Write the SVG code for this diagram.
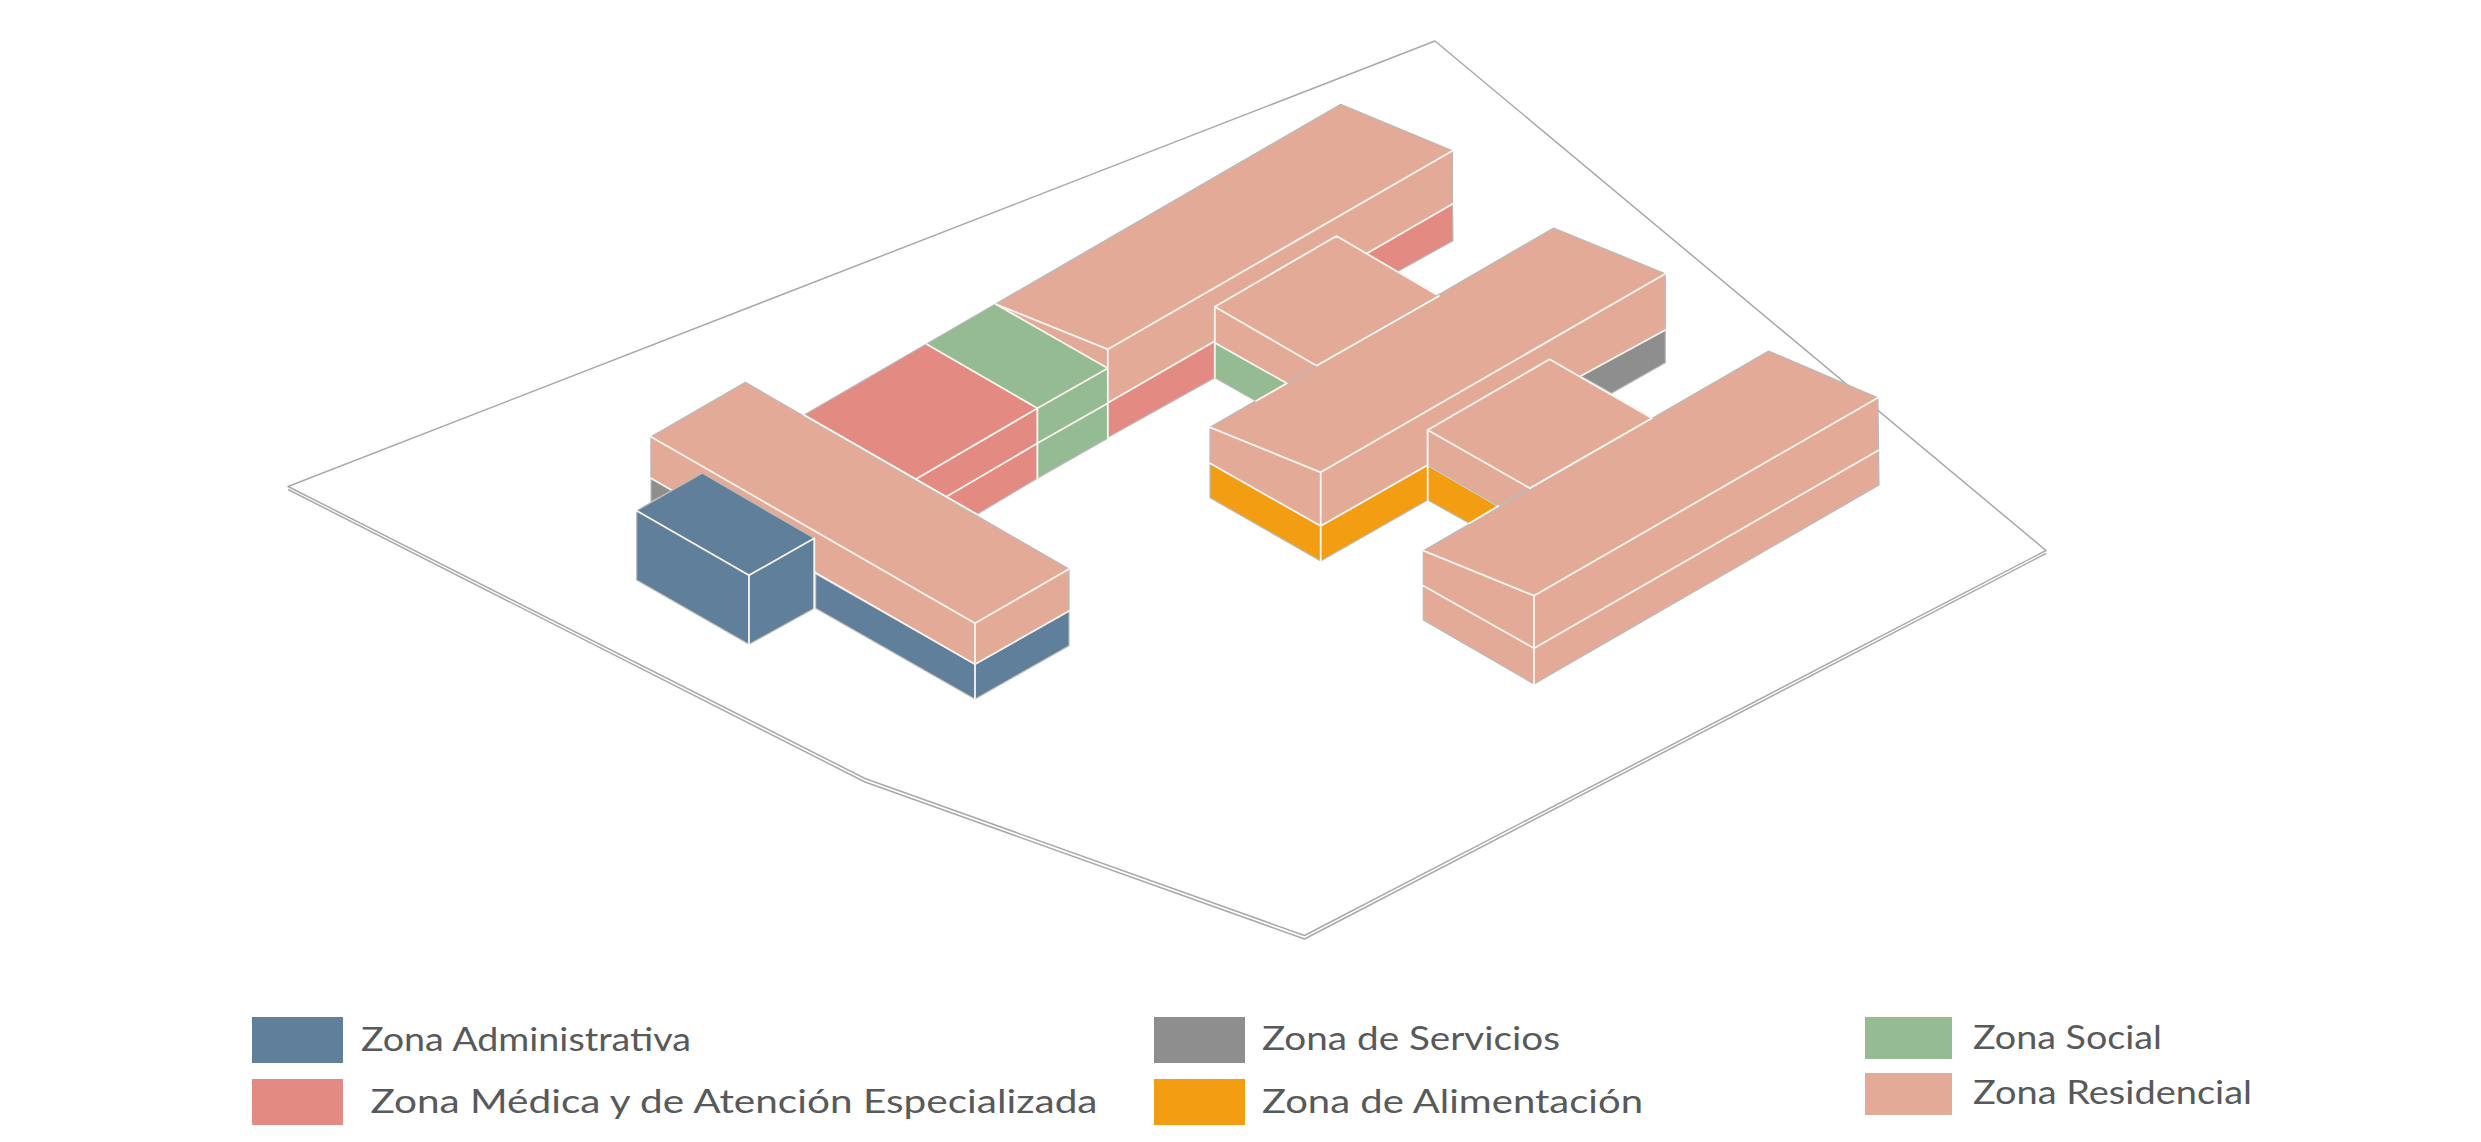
<svg xmlns="http://www.w3.org/2000/svg" width="2481" height="1142" viewBox="0 0 2481 1142">
<style>
.a{fill:#5f7f9b}.m{fill:#e38b82}.s{fill:#94bb91}.r{fill:#e3aa98}.g{fill:#8e8e8e}.o{fill:#f39d13}
polygon{stroke:#b9b9b9;stroke-width:1.2;stroke-linejoin:round}
.w{fill:none;stroke:#fdf6f0;stroke-width:1.8;stroke-linecap:round;stroke-linejoin:round}
.site{fill:none;stroke:#a9a9a9;stroke-width:1.5;stroke-linejoin:round}
text{font-family:"Lato","Liberation Sans",sans-serif;font-size:33px;fill:#58595b}
rect{stroke:none}
</style>
<g id="site">
<polyline class="site" points="288,489.500 865,782 1304.500,939 2046,553.500"/>
<polygon class="site" points="1435,41 2046,550.500 1304.500,935.500 865,778.500 288,486.500"/>
</g>
<g id="bar-north">
<polygon class="m" points="804,415 926.400,344 1037.400,408.300 1037.400,478.300 977,514.300 946,497 915.700,479.300"/>
<polygon class="s" points="926.400,344 995.500,304 1107.800,368.300 1107.800,438.300 1037.400,478.300 1037.400,408.300"/>
<polygon class="r" points="995.500,304 1108,349.300 1107.800,368.300"/>
<polygon class="r" points="995.500,304 1340.700,104.300 1452.500,150.700 1452.500,204 1369,253 1108,402.700 1108,349.300"/>
<polygon class="m" points="1108,402.700 1452.500,204 1453,240.700 1399,270.700 1214.800,377.700 1108,437.300"/>
<path class="w" d="M804,415 915.700,479.300 1037.400,408.300 926.400,344M946.300,496.700 1037.400,443.300 1107.800,403.300M915.700,479.300 1037.400,408.300 1107.800,368.300 995.500,304 1108,349.300 1452.500,150.700M1037.400,408.300V478.300M1107.800,349.300V438.300M1108,402.700 1452.500,204"/>
</g>
<g id="wing-middle">
<polygon class="s" points="1214.800,342.700 1286.800,383.300 1256,401 1214.800,377.700"/>
<polygon class="r" points="1214.800,306.700 1336.500,236 1439,296 1316.600,365.700 1286.800,383.300 1214.800,342.700"/>
<path class="w" d="M1214.800,306.700 1336.500,236 1439,296 1316.600,365.700 1214.800,306.700V377.700M1214.800,342.700 1286.800,383.300"/>
</g>
<g id="bar-east">
<polygon class="g" points="1665.300,330 1665.300,362.700 1611.600,393.300 1580.800,376"/>
<polygon class="o" points="1210,463.300 1320.700,526 1427.700,465 1498.300,506 1469.300,523.300 1427.700,500 1320.700,561 1210,497.700"/>
<polygon class="r" points="1210,427.300 1553.600,228 1665.300,273.700 1665.300,330 1580.800,376 1427.700,465 1320.700,526 1210,463.300"/>
<path class="w" d="M1210,427.300 1320.700,472.300 1665.300,273.700M1320.700,472.300V561M1210,463.300 1320.700,526 1427.700,465M1427.700,430V500M1427.700,465 1498.300,506M1580.800,376 1665.300,330M1256,401 1286.800,383.300M1316.600,365.700 1439,296"/>
</g>
<g id="wing-east">
<polygon class="r" points="1427.700,430 1549.600,359.300 1652,418.300 1530,488.300 1498.300,506 1427.700,465"/>
<path class="w" d="M1427.700,430 1549.600,359.300 1652,418.300 1530,488.300 1427.700,430V465"/>
</g>
<g id="bar-south">
<polygon class="r" points="1423.300,550.700 1768.600,351 1877.900,397.700 1879,485 1534,684 1423.300,620"/>
<path class="w" d="M1423.300,550.700 1534,595.700 1877.900,397.700M1534,595.700V684M1423.300,585.700 1534,648.300 1879,450M1469.300,523.300 1498.300,506M1530,488.300 1652,418.300"/>
</g>
<g id="block-west">
<polygon class="g" points="651,478.300 672.700,490 651,501.700"/>
<polygon class="a" points="815.700,574 975,664.300 1069,611 1069,645.700 975,699 815.700,608.300"/>
<polygon class="r" points="650.900,436.700 745.400,382.300 1069,569 1069,611 975,664.300 650.900,478.300"/>
<path class="w" d="M650.900,436.700 975,623.300 1069,569M975,623.300V699M650.900,478.300 975,664.300 1069,611M804,415 977,514.300"/>
</g>
<g id="block-admin">
<polygon class="a" points="636.700,510.700 702.300,473.300 814.300,538.300 814.300,608.300 749,644.300 636.700,580"/>
<path class="w" d="M636.700,510.700 749,575.300 814.300,538.300V608.300M749,575.300V644.300"/>
</g>
<g id="legend">
<rect class="a" x="252" y="1017" width="91" height="46"/>
<text x="361" y="1050.500" textLength="330" lengthAdjust="spacingAndGlyphs">Zona Administrativa</text>
<rect class="m" x="252" y="1079" width="91" height="46"/>
<text x="370.500" y="1112.500" textLength="727" lengthAdjust="spacingAndGlyphs">Zona Médica y de Atención Especializada</text>
<rect class="g" x="1154" y="1017" width="91" height="46"/>
<text x="1262" y="1050" textLength="298" lengthAdjust="spacingAndGlyphs">Zona de Servicios</text>
<rect class="o" x="1154" y="1079" width="91" height="46"/>
<text x="1262" y="1112.500" textLength="381" lengthAdjust="spacingAndGlyphs">Zona de Alimentación</text>
<rect class="s" x="1865" y="1017" width="87" height="42"/>
<text x="1973" y="1048.500" textLength="189" lengthAdjust="spacingAndGlyphs">Zona Social</text>
<rect class="r" x="1865" y="1073" width="87" height="42"/>
<text x="1973" y="1104" textLength="279" lengthAdjust="spacingAndGlyphs">Zona Residencial</text>
</g>
</svg>
